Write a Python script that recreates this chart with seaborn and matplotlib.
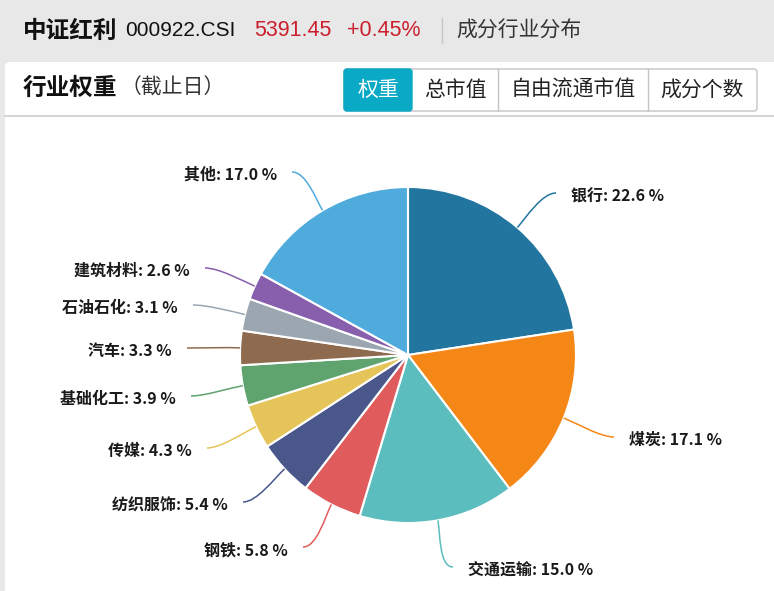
import numpy as np
import matplotlib
matplotlib.use("Agg")
import matplotlib.pyplot as plt
import seaborn as sns
from matplotlib.patches import FancyBboxPatch, PathPatch, Rectangle
from matplotlib.path import Path

# industry weights of 中证红利 (000922.CSI)
industries = ["银行", "煤炭", "交通运输", "钢铁", "纺织服饰", "传媒",
              "基础化工", "汽车", "石油石化", "建筑材料", "其他"]
weights = [22.6, 17.1, 15.0, 5.8, 5.4, 4.3, 3.9, 3.3, 3.1, 2.6, 17.0]
colors = ["#21759f", "#f58717", "#5cbdbe", "#e05c5c", "#4a578b", "#e5c559",
          "#5fa36e", "#8e6b4f", "#9ba6b1", "#875fad", "#4fabdc"]

index_name = "中证红利"
index_code = "000922.CSI"
index_price = "5391.45"
index_change = "+0.45%"
tabs = ["权重", "总市值", "自由流通市值", "成分个数"]

# label line end points (screen px)
label_ends = [(556, 193), (614, 437), (453, 567), (303, 547), (243, 502), (207, 448),
              (191, 396), (187, 348), (193, 305), (205, 268), (292, 172)]

W, H = 774, 591
CX, CY, R = 408, 355, 168


def Y(y):
    return H - y


sns.set_theme(style="white")
plt.rcParams["font.family"] = ["Noto Sans CJK SC", "DejaVu Sans"]
palette = sns.color_palette(colors)

fig = plt.figure(figsize=(W / 100, H / 100), dpi=100)
ax = fig.add_axes([0, 0, 1, 1])

wedges, _ = ax.pie(weights, colors=palette, startangle=90, counterclock=False,
                   center=(CX, Y(CY)), radius=R,
                   wedgeprops=dict(edgecolor="white", linewidth=1.5, zorder=3))
ax.set_xlim(0, W)
ax.set_ylim(0, H)
ax.set_aspect("equal")
ax.axis("off")

# background: gray page and white card
ax.add_patch(Rectangle((0, 0), W, H, facecolor="#e8e8e8", edgecolor="none", zorder=0))
ax.add_patch(FancyBboxPatch((5, -10), W + 10, Y(62) + 10,
                            boxstyle="round,pad=0,rounding_size=5",
                            facecolor="white", edgecolor="none", zorder=1))
ax.plot([5, W], [Y(116), Y(116)], color="#cccccc", lw=1.2, zorder=2)

# header
ax.text(23, Y(31), index_name, fontsize=17, fontweight="bold", color="#111111",
        ha="left", va="center", zorder=4)
ax.text(125, Y(31), index_code, fontsize=15, color="#111111", ha="left", va="center",
        family=["Liberation Sans", "DejaVu Sans"], zorder=4)
ax.text(254, Y(31), index_price, fontsize=15.5, color="#cc1f2d", ha="left", va="center",
        family=["Liberation Sans", "DejaVu Sans"], zorder=4)
ax.text(347, Y(31), index_change, fontsize=15.5, color="#cc1f2d", ha="left", va="center",
        family=["Liberation Sans", "DejaVu Sans"], zorder=4)
ax.plot([442, 442], [Y(18), Y(43)], color="#c8c8c8", lw=1, zorder=4)
ax.text(456, Y(31), "成分行业分布", fontsize=15, color="#333333", ha="left", va="center", zorder=4)

# card title
ax.text(23, Y(88), "行业权重", fontsize=17, fontweight="bold", color="#111111",
        ha="left", va="center", zorder=4)
ax.text(121, Y(88), "（截止日）", fontsize=15, color="#333333", ha="left", va="center", zorder=4)

# tab buttons
bx0, bx1, by0, by1 = 344, 757, 69, 111
dividers = [344, 412, 498, 648, 757]
ax.add_patch(FancyBboxPatch((bx0, Y(by1)), bx1 - bx0, by1 - by0,
                            boxstyle="round,pad=0,rounding_size=3",
                            facecolor="white", edgecolor="#c4c4c4", lw=1, zorder=4))
ax.add_patch(FancyBboxPatch((bx0, Y(by1)), dividers[1] - bx0, by1 - by0,
                            boxstyle="round,pad=0,rounding_size=3",
                            facecolor="#0aa9c6", edgecolor="#0aa9c6", lw=1, zorder=5))
for xd in dividers[2:-1]:
    ax.plot([xd, xd], [Y(by1), Y(by0)], color="#c4c4c4", lw=1, zorder=5)
for i, tab in enumerate(tabs):
    xc = (dividers[i] + dividers[i + 1]) / 2
    ax.text(xc, Y(90), tab, fontsize=15, color="white" if i == 0 else "#222222",
            ha="center", va="center", zorder=6)

# leader lines and labels
total = sum(weights)
cum = np.cumsum([0] + weights)
for i, (name, v) in enumerate(zip(industries, weights)):
    mid = (cum[i] + v / 2) / total * 2 * np.pi
    dx, dy = np.sin(mid), np.cos(mid)
    p0 = (CX + R * dx, Y(CY) + R * dy)
    ex, ey = label_ends[i]
    end = (ex, Y(ey))
    side = 1 if ex > CX else -1
    c1 = (p0[0] + dx * 14, p0[1] + dy * 14)
    c2 = (end[0] - side * 14, end[1])
    path = Path([p0, c1, c2, end], [Path.MOVETO, Path.CURVE4, Path.CURVE4, Path.CURVE4])
    ax.add_patch(PathPatch(path, facecolor="none", edgecolor=palette[i], lw=1.1, zorder=4))
    ax.text(ex + side * 15, Y(ey + 3), f"{name}: {v:.1f} %", fontsize=11.5,
            fontweight="bold", color="#1a1a1a",
            ha="left" if side > 0 else "right", va="center", zorder=6)

fig.savefig("out.png", dpi=100)
